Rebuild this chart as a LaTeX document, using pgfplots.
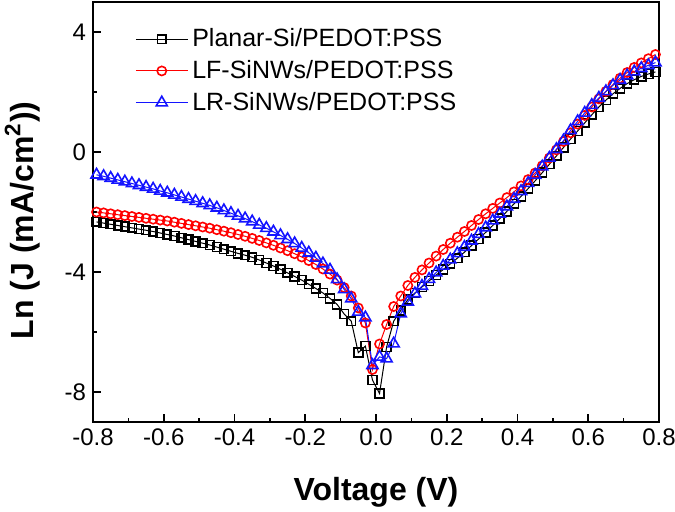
\documentclass[border=0pt]{standalone}
\usepackage{fontspec}
\setmainfont{Liberation Sans}
\usepackage{pgfplots}
\usepackage{pgfplotstable}
\pgfplotsset{compat=1.18}
\pgfplotstableread{
x planar lf lr
-0.79 -2.33 -2.00 -0.76
-0.77 -2.37 -2.03 -0.81
-0.75 -2.41 -2.06 -0.87
-0.73 -2.45 -2.09 -0.93
-0.71 -2.49 -2.12 -0.99
-0.69 -2.53 -2.15 -1.05
-0.67 -2.57 -2.18 -1.11
-0.65 -2.61 -2.21 -1.17
-0.63 -2.65 -2.24 -1.23
-0.61 -2.70 -2.27 -1.30
-0.59 -2.75 -2.30 -1.36
-0.57 -2.80 -2.34 -1.43
-0.55 -2.86 -2.38 -1.50
-0.53 -2.92 -2.42 -1.57
-0.51 -2.98 -2.46 -1.64
-0.49 -3.04 -2.50 -1.71
-0.47 -3.10 -2.54 -1.78
-0.45 -3.17 -2.59 -1.86
-0.43 -3.24 -2.64 -1.95
-0.41 -3.31 -2.69 -2.04
-0.39 -3.38 -2.75 -2.13
-0.37 -3.44 -2.81 -2.22
-0.35 -3.51 -2.88 -2.32
-0.33 -3.60 -2.95 -2.43
-0.31 -3.70 -3.03 -2.54
-0.29 -3.80 -3.11 -2.66
-0.27 -3.91 -3.20 -2.78
-0.25 -4.03 -3.29 -2.91
-0.23 -4.15 -3.39 -3.05
-0.21 -4.27 -3.50 -3.20
-0.19 -4.41 -3.62 -3.36
-0.17 -4.55 -3.75 -3.53
-0.15 -4.70 -3.90 -3.72
-0.13 -4.88 -4.07 -3.93
-0.11 -5.08 -4.27 -4.25
-0.09 -5.40 -4.52 -4.58
-0.07 -5.64 -4.80 -4.89
-0.05 -6.69 -5.20 -5.33
-0.03 -6.47 -5.70 -5.52
-0.01 -7.60 -7.25 -7.11
0.01 -8.05 -6.40 -6.83
0.03 -6.50 -5.75 -6.89
0.05 -5.64 -5.15 -6.39
0.07 -5.28 -4.80 -5.39
0.09 -4.92 -4.45 -5.00
0.11 -4.70 -4.18 -4.72
0.13 -4.50 -3.93 -4.47
0.15 -4.30 -3.70 -4.24
0.17 -4.10 -3.47 -4.02
0.19 -3.92 -3.25 -3.80
0.21 -3.73 -3.04 -3.59
0.23 -3.54 -2.84 -3.38
0.25 -3.34 -2.65 -3.17
0.27 -3.12 -2.45 -2.96
0.29 -2.90 -2.25 -2.74
0.31 -2.68 -2.06 -2.52
0.33 -2.45 -1.88 -2.29
0.35 -2.22 -1.70 -2.06
0.37 -1.98 -1.52 -1.82
0.39 -1.73 -1.33 -1.57
0.41 -1.48 -1.13 -1.31
0.43 -1.22 -0.92 -1.04
0.45 -0.96 -0.70 -0.77
0.47 -0.69 -0.46 -0.49
0.49 -0.41 -0.20 -0.20
0.51 -0.13 0.07 0.09
0.53 0.15 0.35 0.38
0.55 0.43 0.64 0.72
0.57 0.70 0.93 1.02
0.59 0.97 1.22 1.30
0.61 1.24 1.50 1.56
0.63 1.50 1.77 1.80
0.65 1.73 2.02 2.02
0.67 1.94 2.25 2.22
0.69 2.12 2.46 2.40
0.71 2.28 2.65 2.55
0.73 2.41 2.82 2.68
0.75 2.52 2.97 2.79
0.77 2.60 3.11 2.89
0.79 2.67 3.25 2.98
}\datatable
\definecolor{myred}{RGB}{255,0,0}
\definecolor{myblue}{RGB}{20,20,255}
\begin{document}
\begin{tikzpicture}
\begin{axis}[
  scale only axis,
  width=283pt, height=210pt,
  xmin=-0.8, xmax=0.8, ymin=-9, ymax=5,
  xtick={-0.8,-0.6,...,0.81},
  ytick={-8,-4,0,4},
  minor x tick num=1, minor y tick num=1,
  tick align=inside, tick pos=left,
  major tick length=4pt, minor tick length=2pt,
  axis line style={line width=1pt},
  every tick/.style={black, line width=0.8pt},
  xticklabel style={/pgf/number format/.cd, fixed, zerofill, precision=1, assume math mode=true},
  yticklabel style={/pgf/number format/.cd, assume math mode=true},
  ticklabel style={font=\fontsize{12pt}{14pt}\selectfont},
  xlabel={\bfseries Voltage (V)},
  ylabel={\bfseries Ln (J (mA/cm\textsuperscript{2}))},
  label style={font=\fontsize{16pt}{19pt}\selectfont},
  xlabel style={at={(axis description cs:0.5,0)}, anchor=center, yshift=-35pt},
  ylabel style={at={(axis description cs:-0.125,0.48)}, anchor=center},
  legend cell align=left,
  legend style={draw=none, fill=none, inner sep=0pt, at={(axis description cs:0.074,0.947)}, anchor=north west,
    font=\fontsize{12.5pt}{14pt}\selectfont, row sep=1.3pt},
  legend image code/.code={\draw[mark repeat=2,mark phase=2,#1] plot coordinates {(0pt,0pt) (13pt,0pt) (26pt,0pt)};},
]
\addplot[black, line width=0.5pt, mark=square, mark size=2.2pt, mark options={line width=0.8pt, solid}] table[x=x,y=planar]{\datatable};
\addlegendentry{Planar-Si/PEDOT:PSS}
\addplot[myred, line width=0.5pt, mark=o, mark size=2.3pt, mark options={line width=0.8pt, solid}] table[x=x,y=lf]{\datatable};
\addlegendentry{LF-SiNWs/PEDOT:PSS}
\addplot[myblue, line width=0.5pt, mark=triangle, mark size=3.2pt, mark options={line width=0.8pt, solid}] table[x=x,y=lr]{\datatable};
\addlegendentry{LR-SiNWs/PEDOT:PSS}
\end{axis}
\pgfresetboundingbox
\path (current axis.south west) ++(-46.5pt,-45pt) rectangle ([shift={(8pt,1pt)}]current axis.north east);
\end{tikzpicture}
\end{document}
